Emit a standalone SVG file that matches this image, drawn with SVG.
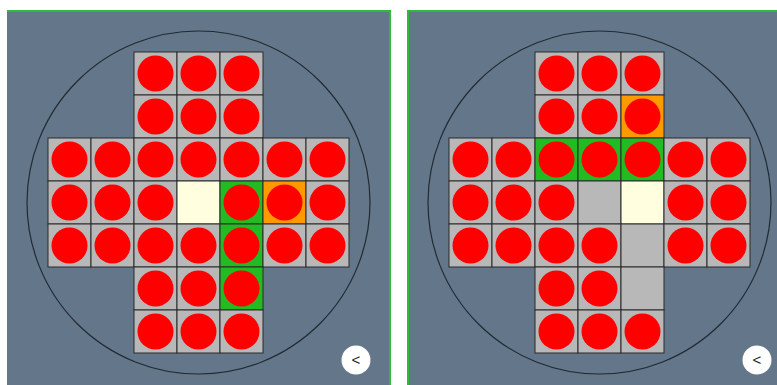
<svg xmlns="http://www.w3.org/2000/svg" xmlns:xlink="http://www.w3.org/1999/xlink" width="777" height="385" viewBox="0 0 777 385">
<style>
.bg{fill:#647689}
.ring{fill:none;stroke:#222a33;stroke-width:1.2}
.c{fill:#b8b8b8;stroke:#2a2a2a;stroke-width:1}
.g{fill:#22bb22;stroke:#2a2a2a;stroke-width:1}
.o{fill:#ff9900;stroke:#2a2a2a;stroke-width:1}
.y{fill:#ffffe0;stroke:#2a2a2a;stroke-width:1}
.p{fill:#ff0000}
.btn{fill:#ffffff}
.bt{font-family:"Liberation Sans",Arial,sans-serif;font-size:15px;fill:#222;text-anchor:middle}
.edge{fill:#2dbb3a}
</style>
<defs>
<rect id="cell" width="43" height="43"/>
</defs>
<rect width="777" height="385" fill="#ffffff"/>
<g id="panel-left">
<rect class="bg" x="7" y="10" width="384" height="375"/>
<rect class="edge" x="7" y="10" width="384" height="2"/>
<rect class="edge" x="389" y="10" width="2" height="375"/>
<circle class="ring" cx="198.5" cy="202.5" r="171.5"/>
<g id="board-left" transform="translate(48,52)">
<rect class="c" x="86" y="0" width="43" height="43"/><rect class="c" x="129" y="0" width="43" height="43"/><rect class="c" x="172" y="0" width="43" height="43"/>
<rect class="c" x="86" y="43" width="43" height="43"/><rect class="c" x="129" y="43" width="43" height="43"/><rect class="c" x="172" y="43" width="43" height="43"/>
<rect class="c" x="0" y="86" width="43" height="43"/><rect class="c" x="43" y="86" width="43" height="43"/><rect class="c" x="86" y="86" width="43" height="43"/><rect class="c" x="129" y="86" width="43" height="43"/><rect class="c" x="172" y="86" width="43" height="43"/><rect class="c" x="215" y="86" width="43" height="43"/><rect class="c" x="258" y="86" width="43" height="43"/>
<rect class="c" x="0" y="129" width="43" height="43"/><rect class="c" x="43" y="129" width="43" height="43"/><rect class="c" x="86" y="129" width="43" height="43"/><rect class="y" x="129" y="129" width="43" height="43"/><rect class="g" x="172" y="129" width="43" height="43"/><rect class="o" x="215" y="129" width="43" height="43"/><rect class="c" x="258" y="129" width="43" height="43"/>
<rect class="c" x="0" y="172" width="43" height="43"/><rect class="c" x="43" y="172" width="43" height="43"/><rect class="c" x="86" y="172" width="43" height="43"/><rect class="c" x="129" y="172" width="43" height="43"/><rect class="g" x="172" y="172" width="43" height="43"/><rect class="c" x="215" y="172" width="43" height="43"/><rect class="c" x="258" y="172" width="43" height="43"/>
<rect class="c" x="86" y="215" width="43" height="43"/><rect class="c" x="129" y="215" width="43" height="43"/><rect class="g" x="172" y="215" width="43" height="43"/>
<rect class="c" x="86" y="258" width="43" height="43"/><rect class="c" x="129" y="258" width="43" height="43"/><rect class="c" x="172" y="258" width="43" height="43"/>
<circle class="p" cx="107.5" cy="21.5" r="18"/><circle class="p" cx="150.5" cy="21.5" r="18"/><circle class="p" cx="193.5" cy="21.5" r="18"/>
<circle class="p" cx="107.5" cy="64.5" r="18"/><circle class="p" cx="150.5" cy="64.5" r="18"/><circle class="p" cx="193.5" cy="64.5" r="18"/>
<circle class="p" cx="21.5" cy="107.5" r="18"/><circle class="p" cx="64.5" cy="107.5" r="18"/><circle class="p" cx="107.5" cy="107.5" r="18"/><circle class="p" cx="150.5" cy="107.5" r="18"/><circle class="p" cx="193.5" cy="107.5" r="18"/><circle class="p" cx="236.5" cy="107.5" r="18"/><circle class="p" cx="279.5" cy="107.5" r="18"/>
<circle class="p" cx="21.5" cy="150.5" r="18"/><circle class="p" cx="64.5" cy="150.5" r="18"/><circle class="p" cx="107.5" cy="150.5" r="18"/><circle class="p" cx="193.5" cy="150.5" r="18"/><circle class="p" cx="236.5" cy="150.5" r="18"/><circle class="p" cx="279.5" cy="150.5" r="18"/>
<circle class="p" cx="21.5" cy="193.5" r="18"/><circle class="p" cx="64.5" cy="193.5" r="18"/><circle class="p" cx="107.5" cy="193.5" r="18"/><circle class="p" cx="150.5" cy="193.5" r="18"/><circle class="p" cx="193.5" cy="193.5" r="18"/><circle class="p" cx="236.5" cy="193.5" r="18"/><circle class="p" cx="279.5" cy="193.5" r="18"/>
<circle class="p" cx="107.5" cy="236.5" r="18"/><circle class="p" cx="150.5" cy="236.5" r="18"/><circle class="p" cx="193.5" cy="236.5" r="18"/>
<circle class="p" cx="107.5" cy="279.5" r="18"/><circle class="p" cx="150.5" cy="279.5" r="18"/><circle class="p" cx="193.5" cy="279.5" r="18"/>
</g>
<g id="btn-left">
<circle class="btn" cx="356" cy="360" r="14.5"/>
<text class="bt" x="356" y="365">&lt;</text>
</g>
</g>
<g id="panel-right">
<rect class="bg" x="407" y="10" width="370" height="375"/>
<rect class="edge" x="407" y="10" width="370" height="2"/>
<rect class="edge" x="407" y="10" width="2" height="375"/>
<circle class="ring" cx="599.5" cy="202.5" r="171.5"/>
<g id="board-right" transform="translate(449,52)">
<rect class="c" x="86" y="0" width="43" height="43"/><rect class="c" x="129" y="0" width="43" height="43"/><rect class="c" x="172" y="0" width="43" height="43"/>
<rect class="c" x="86" y="43" width="43" height="43"/><rect class="c" x="129" y="43" width="43" height="43"/><rect class="o" x="172" y="43" width="43" height="43"/>
<rect class="c" x="0" y="86" width="43" height="43"/><rect class="c" x="43" y="86" width="43" height="43"/><rect class="g" x="86" y="86" width="43" height="43"/><rect class="g" x="129" y="86" width="43" height="43"/><rect class="g" x="172" y="86" width="43" height="43"/><rect class="c" x="215" y="86" width="43" height="43"/><rect class="c" x="258" y="86" width="43" height="43"/>
<rect class="c" x="0" y="129" width="43" height="43"/><rect class="c" x="43" y="129" width="43" height="43"/><rect class="c" x="86" y="129" width="43" height="43"/><rect class="c" x="129" y="129" width="43" height="43"/><rect class="y" x="172" y="129" width="43" height="43"/><rect class="c" x="215" y="129" width="43" height="43"/><rect class="c" x="258" y="129" width="43" height="43"/>
<rect class="c" x="0" y="172" width="43" height="43"/><rect class="c" x="43" y="172" width="43" height="43"/><rect class="c" x="86" y="172" width="43" height="43"/><rect class="c" x="129" y="172" width="43" height="43"/><rect class="c" x="172" y="172" width="43" height="43"/><rect class="c" x="215" y="172" width="43" height="43"/><rect class="c" x="258" y="172" width="43" height="43"/>
<rect class="c" x="86" y="215" width="43" height="43"/><rect class="c" x="129" y="215" width="43" height="43"/><rect class="c" x="172" y="215" width="43" height="43"/>
<rect class="c" x="86" y="258" width="43" height="43"/><rect class="c" x="129" y="258" width="43" height="43"/><rect class="c" x="172" y="258" width="43" height="43"/>
<circle class="p" cx="107.5" cy="21.5" r="18"/><circle class="p" cx="150.5" cy="21.5" r="18"/><circle class="p" cx="193.5" cy="21.5" r="18"/>
<circle class="p" cx="107.5" cy="64.5" r="18"/><circle class="p" cx="150.5" cy="64.5" r="18"/><circle class="p" cx="193.5" cy="64.5" r="18"/>
<circle class="p" cx="21.5" cy="107.5" r="18"/><circle class="p" cx="64.5" cy="107.5" r="18"/><circle class="p" cx="107.5" cy="107.5" r="18"/><circle class="p" cx="150.5" cy="107.5" r="18"/><circle class="p" cx="193.5" cy="107.5" r="18"/><circle class="p" cx="236.5" cy="107.5" r="18"/><circle class="p" cx="279.5" cy="107.5" r="18"/>
<circle class="p" cx="21.5" cy="150.5" r="18"/><circle class="p" cx="64.5" cy="150.5" r="18"/><circle class="p" cx="107.5" cy="150.5" r="18"/><circle class="p" cx="236.5" cy="150.5" r="18"/><circle class="p" cx="279.5" cy="150.5" r="18"/>
<circle class="p" cx="21.5" cy="193.5" r="18"/><circle class="p" cx="64.5" cy="193.5" r="18"/><circle class="p" cx="107.5" cy="193.5" r="18"/><circle class="p" cx="150.5" cy="193.5" r="18"/><circle class="p" cx="236.5" cy="193.5" r="18"/><circle class="p" cx="279.5" cy="193.5" r="18"/>
<circle class="p" cx="107.5" cy="236.5" r="18"/><circle class="p" cx="150.5" cy="236.5" r="18"/>
<circle class="p" cx="107.5" cy="279.5" r="18"/><circle class="p" cx="150.5" cy="279.5" r="18"/><circle class="p" cx="193.5" cy="279.5" r="18"/>
</g>
<g id="btn-right">
<circle class="btn" cx="757" cy="360" r="14.5"/>
<text class="bt" x="757" y="365">&lt;</text>
</g>
</g>
<g id="connectors"></g>
</svg>
